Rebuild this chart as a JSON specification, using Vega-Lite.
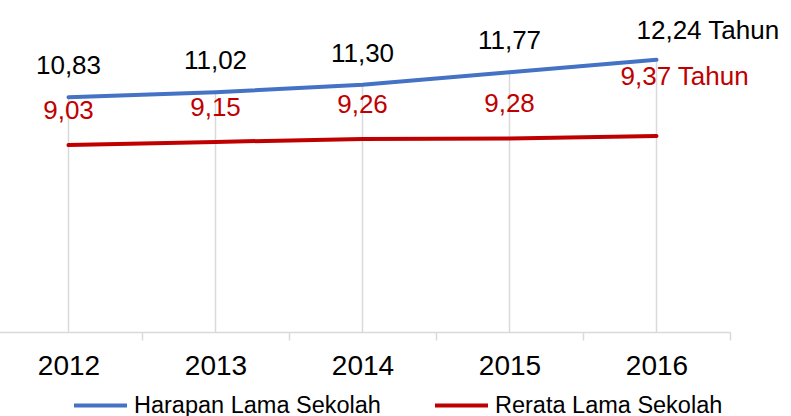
{
  "$schema": "https://vega.github.io/schema/vega-lite/v6.json",
  "width": 735,
  "height": 319,
  "autosize": {"type": "none"},
  "padding": {"left": -5, "top": 13, "right": 61, "bottom": 84},
  "background": "white",
  "config": {
    "view": {"stroke": null},
    "font": "Liberation Sans",
    "axisX": {
      "tickBand": "extent",
      "grid": false,
      "domainColor": "#D9D9D9",
      "domainWidth": 1.5,
      "tickColor": "#D9D9D9",
      "tickWidth": 1.5,
      "tickSize": 8,
      "labelFontSize": 28,
      "labelColor": "#000000",
      "labelFont": "Liberation Sans",
      "labelPadding": 12,
      "labelAngle": 0,
      "title": null
    }
  },
  "data": {
    "values": [
      {"year": "2012", "series": "Harapan Lama Sekolah", "value": 10.83, "label": "10,83"},
      {"year": "2013", "series": "Harapan Lama Sekolah", "value": 11.02, "label": "11,02"},
      {"year": "2014", "series": "Harapan Lama Sekolah", "value": 11.30, "label": "11,30"},
      {"year": "2015", "series": "Harapan Lama Sekolah", "value": 11.77, "label": "11,77"},
      {"year": "2016", "series": "Harapan Lama Sekolah", "value": 12.24, "label": "12,24 Tahun"},
      {"year": "2012", "series": "Rerata Lama Sekolah", "value": 9.03, "label": "9,03"},
      {"year": "2013", "series": "Rerata Lama Sekolah", "value": 9.15, "label": "9,15"},
      {"year": "2014", "series": "Rerata Lama Sekolah", "value": 9.26, "label": "9,26"},
      {"year": "2015", "series": "Rerata Lama Sekolah", "value": 9.28, "label": "9,28"},
      {"year": "2016", "series": "Rerata Lama Sekolah", "value": 9.37, "label": "9,37 Tahun"}
    ]
  },
  "encoding": {
    "x": {
      "field": "year",
      "type": "ordinal",
      "bandPosition": 0.5,
      "scale": {"type": "band", "paddingInner": 0, "paddingOuter": 0},
      "axis": {"title": null}
    },
    "y": {
      "field": "value",
      "type": "quantitative",
      "scale": {"domain": [2, 14], "nice": false, "zero": false},
      "axis": null
    }
  },
  "layer": [
    {
      "transform": [{"filter": "datum.series == 'Harapan Lama Sekolah'"}],
      "mark": {"type": "rule", "color": "#D9D9D9", "strokeWidth": 1.5},
      "encoding": {"y2": {"datum": 2}}
    },
    {
      "mark": {"type": "line", "strokeWidth": 4, "strokeCap": "round"},
      "encoding": {
        "color": {
          "field": "series",
          "type": "nominal",
          "scale": {"domain": ["Harapan Lama Sekolah", "Rerata Lama Sekolah"], "range": ["#4472C4", "#C00000"]},
          "legend": {
            "orient": "none",
            "legendX": 77,
            "legendY": 364,
            "direction": "horizontal",
            "title": null,
            "symbolType": "stroke",
            "symbolSize": 2809,
            "symbolStrokeWidth": 4,
            "labelFontSize": 23.5,
            "labelFont": "Liberation Sans",
            "labelColor": "#000000",
            "labelOffset": 5,
            "labelLimit": 0,
            "columnPadding": 46
          }
        }
      }
    },
    {
      "transform": [{"filter": "datum.series == 'Harapan Lama Sekolah' && datum.year != '2016'"}],
      "mark": {"type": "text", "fontSize": 26, "color": "#000000", "dy": -31, "baseline": "middle", "align": "center"},
      "encoding": {"text": {"field": "label"}}
    },
    {
      "transform": [{"filter": "datum.series == 'Rerata Lama Sekolah' && datum.year != '2016'"}],
      "mark": {"type": "text", "fontSize": 26, "color": "#C00000", "dy": -34, "baseline": "middle", "align": "center"},
      "encoding": {"text": {"field": "label"}}
    },
    {
      "transform": [{"filter": "datum.series == 'Harapan Lama Sekolah' && datum.year == '2016'"}],
      "mark": {"type": "text", "fontSize": 26, "color": "#000000", "dx": -20, "dy": -29, "baseline": "middle", "align": "left"},
      "encoding": {"text": {"field": "label"}}
    },
    {
      "transform": [{"filter": "datum.series == 'Rerata Lama Sekolah' && datum.year == '2016'"}],
      "mark": {"type": "text", "fontSize": 26, "color": "#C00000", "dx": -36, "dy": -59, "baseline": "middle", "align": "left"},
      "encoding": {"text": {"field": "label"}}
    }
  ]
}
